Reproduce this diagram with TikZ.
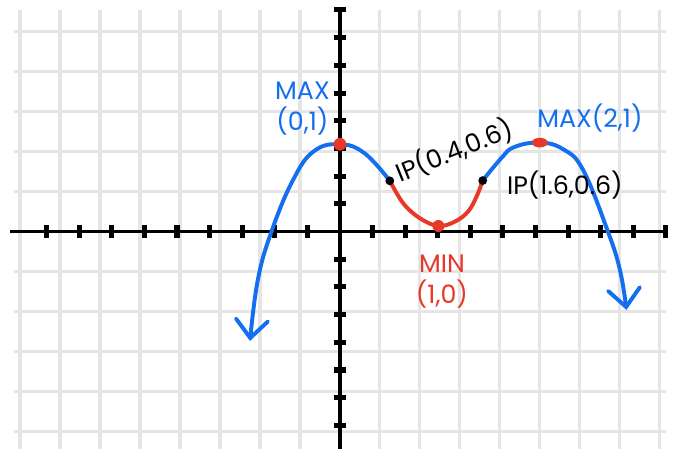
\documentclass[tikz,border=0pt]{standalone}
\usepackage{fontspec}
\setmainfont{Poppins}
\usetikzlibrary{arrows.meta}
\definecolor{penblue}{RGB}{20,110,240}
\definecolor{penred}{RGB}{232,56,40}
\definecolor{gridgray}{RGB}{229,229,229}

\begin{document}
\begin{tikzpicture}[x=0.815cm,y=0.6925cm,gl/.style={draw=gridgray,line width=2.2pt},ax/.style={draw=black,line width=2.8pt},tk/.style={draw=black,line width=3.6pt},pen/.style={line width=2.8pt,line cap=round,line join=round},tip/.style={-{Straight Barb[length=4.5mm,width=8mm,line cap=round]}},lbl/.style={font=\fontsize{18}{22}\selectfont,align=center,inner sep=1pt}]
\path[use as bounding box,fill=white] (-10.43,-7.85) rectangle (10.31,8.36);
% grid and axes
\draw[gl] (-10,-8) grid (10,8);
\draw[ax] (-10.12,0)--(10.06,0); \draw[ax] (0,-8)--(0,8.07);
\foreach \i in {-9,...,-1,1,2,...,10} \draw[tk] (\i,-.22)--(\i,.22);
\foreach \j in {-7,...,-1,1,2,...,8} \draw[tk] (-.18,\j)--(.18,\j);
% key points
\coordinate (max1) at (0,3.15); \coordinate (ip1) at (1.53,1.83); \coordinate (min) at (3.02,0.2);
\coordinate (ip2) at (4.38,1.84); \coordinate (max2) at (6.13,3.21);
\coordinate (lefttip) at (-2.76,-3.95); \coordinate (righttip) at (8.79,-2.83);
% curve
\draw[pen,tip,draw=penblue] plot[smooth,tension=.7] coordinates {(ip1) (0.75,2.83) (max1) (-0.8,2.9) (-1.44,1.86) (-2.10,0) (-2.52,-1.75) (lefttip)};
\draw[pen,draw=penred] plot[smooth,tension=.6] coordinates {(ip1) (1.94,1.02) (2.45,0.48) (min) (3.53,0.36) (3.93,0.72) (4.19,1.26) (ip2)};
\draw[pen,tip,draw=penblue] plot[smooth,tension=.7] coordinates {(ip2) (4.95,2.65) (5.35,3.05) (max2) (6.85,2.97) (7.46,2.22) (8.22,0) (8.59,-1.39) (righttip)};
\fill[penred] (max1) circle (0.16cm); \fill[penred] (min) circle (0.15cm); \fill[penred] (max2) ellipse (0.2cm and 0.12cm);
\fill[black] (ip1) circle (0.11cm); \fill[black] (ip2) circle (0.11cm);
% labels
\node[lbl,text=penblue] (maxlbl1) at (-1.15,4.45) {MAX\\(0,1)};
\node[lbl,rotate=22] (iplbl1) at (3.5,2.92) {IP(0.4,0.6)};
\node[lbl] (iplbl2) at (6.9,1.68) {IP(1.6,0.6)};
\node[lbl,text=penblue] (maxlbl2) at (7.67,4.1) {MAX(2,1)};
\node[lbl,text=penred] (minlbl) at (3.13,-1.79) {MIN\\(1,0)};
\end{tikzpicture}
\end{document}
